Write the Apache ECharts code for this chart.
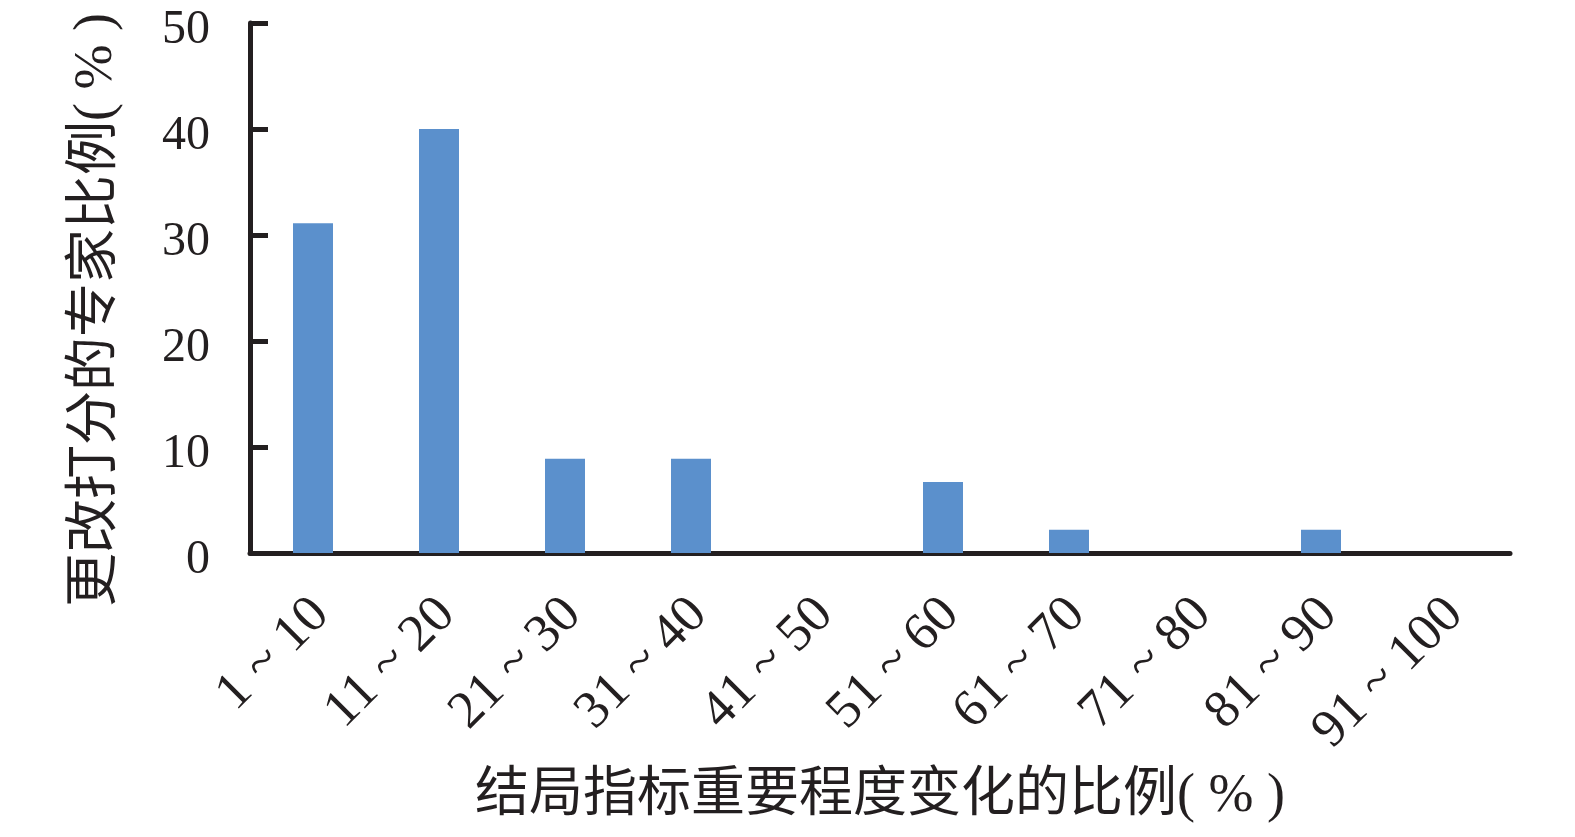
<!DOCTYPE html>
<html>
<head>
<meta charset="utf-8">
<script src="https://cdn.jsdelivr.net/npm/echarts@6/dist/echarts.min.js"></script>
<style>html,body{margin:0;padding:0;background:#fff;}#c{width:1575px;height:837px;}</style>
</head>
<body>
<div id="c"></div>
<script>
const categories = ['1 ~ 10','11 ~ 20','21 ~ 30','31 ~ 40','41 ~ 50','51 ~ 60','61 ~ 70','71 ~ 80','81 ~ 90','91 ~ 100'];
const values = [31.1, 40.0, 8.9, 8.9, 0, 6.7, 2.2, 0, 2.2, 0];
const yTicks = {min: 0, max: 50, interval: 10};
const xName = '结局指标重要程度变化的比例( % )';
const yName = '更改打分的专家比例( % )';

const ink = '#231f20';
const font = '"Liberation Serif", "Noto Sans CJK SC", serif';
const chart = echarts.init(document.getElementById('c'));
chart.setOption({
  animation: false,
  grid: {left: 250, right: 65, top: 23, bottom: 284, containLabel: false},
  xAxis: {
    type: 'category',
    data: categories,
    axisLine: {lineStyle: {color: ink, width: 5}},
    axisTick: {show: false},
    axisLabel: {rotate: 45, margin: 46, verticalAlign: 'top', lineHeight: 22, color: ink, fontSize: 53, fontFamily: font, interval: 0},
    name: xName,
    nameLocation: 'middle',
    nameGap: 217,
    nameTextStyle: {color: ink, fontSize: 54, fontFamily: font}
  },
  yAxis: {
    type: 'value',
    min: yTicks.min, max: yTicks.max, interval: yTicks.interval,
    axisLine: {show: true, lineStyle: {color: ink, width: 5}},
    axisTick: {show: true, inside: true, length: 18, lineStyle: {color: ink, width: 5}},
    splitLine: {show: false},
    axisLabel: {margin: 40, verticalAlign: 'top', lineHeight: 14, color: ink, fontSize: 48, fontFamily: font},
    name: yName,
    nameLocation: 'middle',
    nameRotate: 90,
    nameGap: 126,
    nameTextStyle: {color: ink, fontSize: 54, fontFamily: font, padding: [0, 44, 0, 0]}
  },
  series: [{
    type: 'bar',
    data: values,
    barWidth: 40,
    itemStyle: {color: '#5b90cc'}
  }]
});
</script>
</body>
</html>
